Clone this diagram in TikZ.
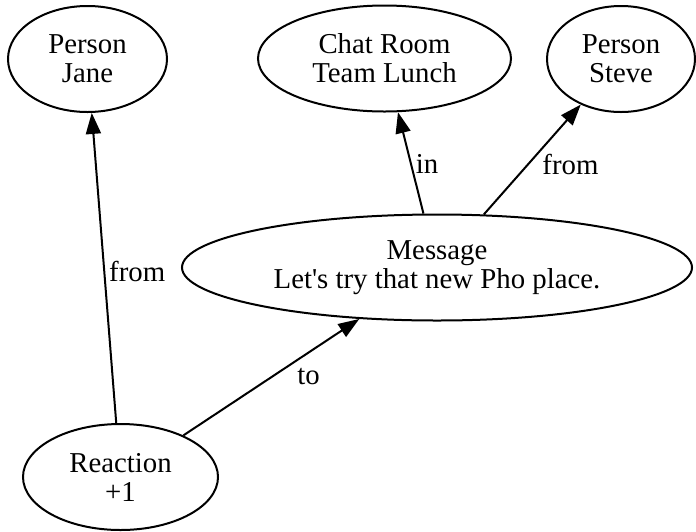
\documentclass[tikz,border=0pt]{standalone}
\usepackage{fontspec}
\setmainfont{Liberation Serif}
\usetikzlibrary{positioning, arrows.meta, shapes.geometric}

\begin{document}
\begin{tikzpicture}
    [
        x=0.5pt, y=-0.5pt,
        entity_node/.style={ellipse, draw=black, line width=1pt, minimum height=53pt, inner sep=0pt, align=center, font=\fontsize{14.4}{14.5}\selectfont},
        edge_label/.style={inner sep=2pt, font=\fontsize{14.4}{14.5}\selectfont},
        edge_arrow/.style={-{Triangle[length=10.5pt, width=7.5pt]}, line width=1pt, color=black},
    ]
        \useasboundingbox (0,0) rectangle (696,531) ;
        \node[entity_node, minimum width=79.5pt] (jane) at (87.5,59) {Person\\Jane} ;
        \node[entity_node, minimum width=126.5pt] (chatroom) at (384.5,58.5) {Chat Room\\Team Lunch} ;
        \node[entity_node, minimum width=74pt] (steve) at (621,59) {Person\\Steve} ;
        \node[entity_node, minimum width=255pt] (message) at (437,267.5) {Message\\Let\textquotesingle s try that new Pho place.} ;
        \node[entity_node, minimum width=97.5pt] (reaction) at (120.5,477) {Reaction\\+1} ;
        \draw[edge_arrow] (reaction) -- node[edge_label, pos=0.49, right] {from} (jane) ;
        \draw[edge_arrow] (reaction) -- node[edge_label, pos=0.62, below right] {to} (message) ;
        \draw[edge_arrow] (message) -- node[edge_label, pos=0.49, right] {in} (chatroom) ;
        \draw[edge_arrow] (message) -- node[edge_label, pos=0.45, right=5pt] {from} (steve) ;
    \end{tikzpicture}
\end{document}
